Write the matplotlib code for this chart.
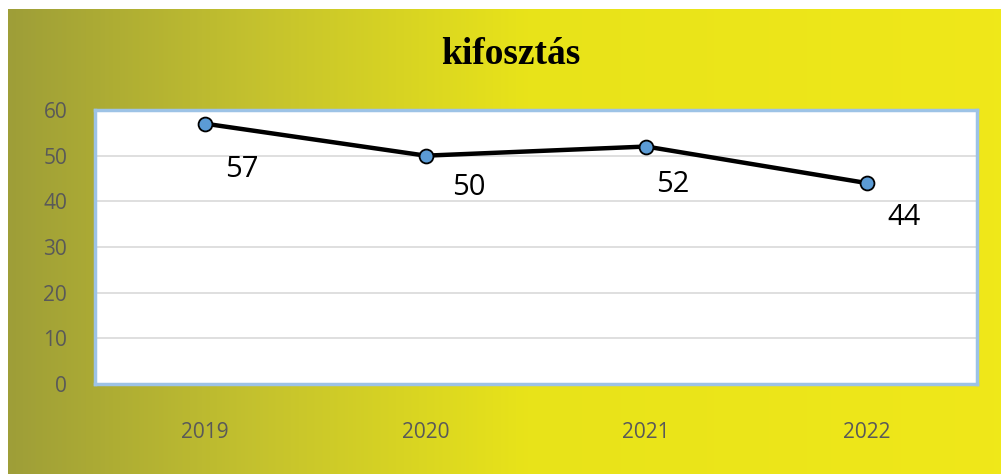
import numpy as np
import matplotlib
matplotlib.use("Agg")
import matplotlib.pyplot as plt
from matplotlib.colors import LinearSegmentedColormap

# Data
years = ["2019", "2020", "2021", "2022"]
values = [57, 50, 52, 44]
title = "kifosztás"
yticks = [0, 10, 20, 30, 40, 50, 60]

W, H = 1001, 474
fig = plt.figure(figsize=(W / 100, H / 100), dpi=100, facecolor="white")

# Gradient background
bg = fig.add_axes([8 / W, 0, 1 - 8 / W, 1 - 9 / H], zorder=0)
cmap = LinearSegmentedColormap.from_list(
    "bg",
    [(0.0, (0.62, 0.62, 0.22)),
     (0.25, (0.77, 0.76, 0.18)),
     (0.52, (0.91, 0.89, 0.10)),
     (1.0, (0.94, 0.91, 0.10))])
grad = np.linspace(0, 1, 512).reshape(1, -1)
bg.imshow(grad, aspect="auto", cmap=cmap, extent=[0, 1, 0, 1])
bg.set_axis_off()

# Main plot area
x0, x1 = 95, 977
y0, y1 = 110, 384
ax = fig.add_axes([x0 / W, 1 - y1 / H, (x1 - x0) / W, (y1 - y0) / H], zorder=1)
ax.set_facecolor("white")
xs = np.arange(len(years))
ax.plot(xs, values, color="black", lw=3.2, marker="o", markersize=10,
        markerfacecolor="#5b9bd5", markeredgecolor="black", markeredgewidth=1.3,
        zorder=3, solid_capstyle="round")

label_offsets = [(37, -46), (43, -32), (27, -38), (37, -34)]
for x, v, off in zip(xs, values, label_offsets):
    ax.annotate(str(v), (x, v), xytext=off, textcoords="offset pixels",
                ha="center", va="center", fontsize=21, family="Open Sans",
                color="black")

ax.set_xlim(-0.5, len(years) - 0.5)
ax.set_ylim(0, 60)
ax.set_yticks(yticks)
ax.set_xticks(xs)
ax.set_xticklabels(years)
ax.tick_params(axis="both", length=0, labelsize=15, colors="#595959")
ax.tick_params(axis="y", pad=20)
ax.tick_params(axis="x", pad=27)
for lab in ax.get_xticklabels() + ax.get_yticklabels():
    lab.set_family("Open Sans")
ax.yaxis.grid(True, color="#d9d9d9", lw=1.2)
ax.set_axisbelow(True)
for s in ax.spines.values():
    s.set_color("#9dc3e6")
    s.set_linewidth(2.5)

fig.text(511 / W, 1 - 55 / H, title, ha="center", va="center",
         fontsize=27, fontweight="bold", family="Liberation Serif", color="black")

fig.savefig("out.png", dpi=100, facecolor="white")
